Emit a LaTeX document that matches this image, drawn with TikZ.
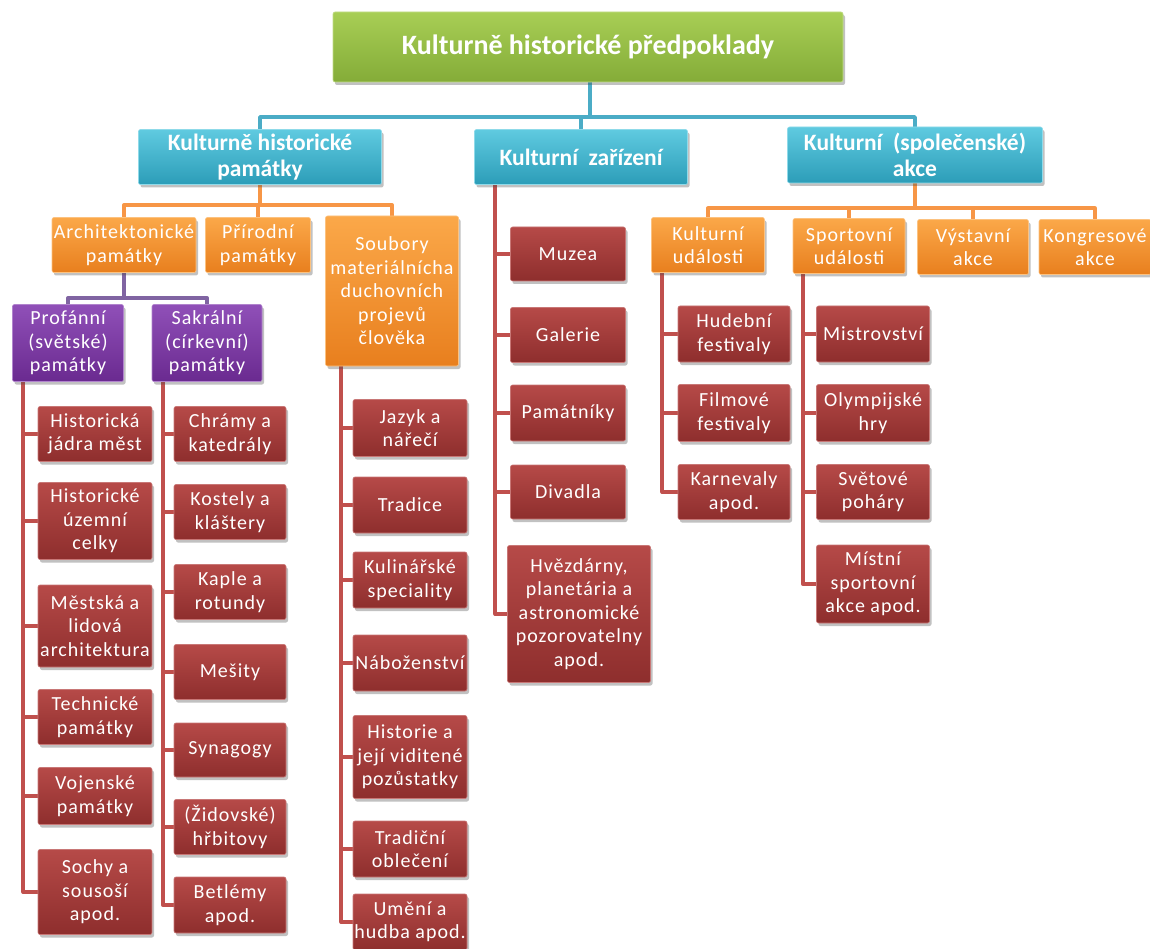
\documentclass[tikz,border=0pt]{standalone}
\usepackage{fontspec}
\setmainfont{Carlito}
\usetikzlibrary{shadows}
\pgfdeclarelayer{bg}
\pgfsetlayers{bg,main}
\definecolor{cgreenT}{HTML}{A8CE55}
\definecolor{cgreenB}{HTML}{84AC38}
\definecolor{cblueT}{HTML}{5FCAE0}
\definecolor{cblueB}{HTML}{2C9DB8}
\definecolor{corangeT}{HTML}{FBA849}
\definecolor{corangeB}{HTML}{E87F1E}
\definecolor{cpurpT}{HTML}{9050B8}
\definecolor{cpurpB}{HTML}{6A2A90}
\definecolor{credT}{HTML}{B64A48}
\definecolor{credB}{HTML}{8E2E2D}
\definecolor{lblue}{HTML}{4BACC6}
\definecolor{lorange}{HTML}{F79646}
\definecolor{lpurple}{HTML}{8064A2}
\definecolor{lred}{HTML}{C0504D}
\tikzset{
  box/.style={rectangle, rounded corners=2pt, align=center, text=white, inner sep=1pt,
    drop shadow={shadow xshift=2pt, shadow yshift=-3pt, opacity=0.35, fill=black!70},
    font=\addfontfeature{LetterSpace=5}\fontsize{20}{23.5}\selectfont},
  greenbox/.style={box, top color=cgreenT, bottom color=cgreenB, draw=cgreenT!70!white, line width=0.6pt,
    font=\bfseries\fontsize{28}{32}\selectfont},
  bluebox/.style={box, top color=cblueT, bottom color=cblueB, draw=cblueT!70!white, line width=0.6pt,
    font=\bfseries\fontsize{23.5}{26}\selectfont},
  orangebox/.style={box, top color=corangeT, bottom color=corangeB, draw=corangeT!70!white, line width=0.6pt},
  purplebox/.style={box, top color=cpurpT, bottom color=cpurpB, draw=cpurpT!70!white, line width=0.6pt},
  redbox/.style={box, top color=credT, bottom color=credB, draw=credT!75!white, line width=0.6pt},
  conn/.style={line width=3.6pt, line join=round},
  bl/.style={conn, draw=lblue},
  ol/.style={conn, draw=lorange},
  pl/.style={conn, draw=lpurple},
  rl/.style={conn, draw=lred},
}
\begin{document}
\begin{tikzpicture}[x=1pt,y=-1pt]
\useasboundingbox (0,0) rectangle (1150,949);

\node[greenbox, minimum width=510pt, minimum height=70pt] (title) at (588,47) {Kulturně historické předpoklady};

\node[bluebox, minimum width=243pt, minimum height=55pt] (khp) at (260,157) {Kulturně historické\\památky};
\node[bluebox, minimum width=213pt, minimum height=55pt] (kz) at (581,157) {Kulturní\ \ zařízení};
\node[bluebox, minimum width=255pt, minimum height=56pt] (ksa) at (915,155) {Kulturní\ \ (společenské)\\akce};

\node[orangebox, minimum width=144pt, minimum height=55pt] (arch) at (124,245) {Architektonické\\památky};
\node[orangebox, minimum width=105pt, minimum height=55pt] (prir) at (258,245) {Přírodní\\památky};
\node[orangebox, minimum width=133pt, minimum height=150pt] (soub) at (392,291) {Soubory\\materiálnícha\\duchovních\\projevů\\člověka};

\node[purplebox, minimum width=111pt, minimum height=77pt] (prof) at (68,343) {Profánní\\(světské)\\památky};
\node[purplebox, minimum width=110pt, minimum height=77pt] (sakr) at (207,343) {Sakrální\\(církevní)\\památky};

% Profánní children
\node[redbox, minimum width=114pt, minimum height=55pt] (p1) at (95,434) {Historická\\jádra měst};
\node[redbox, minimum width=114pt, minimum height=77pt] (p2) at (95,521) {Historické\\územní\\celky};
\node[redbox, minimum width=114pt, minimum height=82pt] (p3) at (95,626) {Městská a\\lidová\\architektura};
\node[redbox, minimum width=114pt, minimum height=55pt] (p4) at (95,717) {Technické\\památky};
\node[redbox, minimum width=114pt, minimum height=57pt] (p5) at (95,796) {Vojenské\\památky};
\node[redbox, minimum width=114pt, minimum height=85pt] (p6) at (95,892) {Sochy a\\sousoší\\apod.};

% Sakrální children
\node[redbox, minimum width=112pt, minimum height=55pt] (s1) at (230,434) {Chrámy a\\katedrály};
\node[redbox, minimum width=112pt, minimum height=55pt] (s2) at (230,512) {Kostely a\\kláštery};
\node[redbox, minimum width=112pt, minimum height=55pt] (s3) at (230,592) {Kaple a\\rotundy};
\node[redbox, minimum width=112pt, minimum height=55pt] (s4) at (230,672) {Mešity};
\node[redbox, minimum width=112pt, minimum height=54pt] (s5) at (230,750) {Synagogy};
\node[redbox, minimum width=112pt, minimum height=55pt] (s6) at (230,827) {(Židovské)\\hřbitovy};
\node[redbox, minimum width=112pt, minimum height=56pt] (s7) at (230,905) {Betlémy\\apod.};

% Soubory children
\node[redbox, minimum width=114pt, minimum height=57pt] (u1) at (410,428) {Jazyk a\\nářečí};
\node[redbox, minimum width=114pt, minimum height=56pt] (u2) at (410,505) {Tradice};
\node[redbox, minimum width=114pt, minimum height=56pt] (u3) at (410,580) {Kulinářské\\speciality};
\node[redbox, minimum width=114pt, minimum height=56pt] (u4) at (410,663) {Náboženství};
\node[redbox, minimum width=114pt, minimum height=83pt] (u5) at (410,757) {Historie a\\její viditené\\pozůstatky};
\node[redbox, minimum width=114pt, minimum height=56pt] (u6) at (410,849) {Tradiční\\oblečení};
\node[redbox, minimum width=114pt, minimum height=56pt] (u7) at (410,922) {Umění a\\hudba apod.};

% Kulturní zařízení children
\node[redbox, minimum width=115pt, minimum height=54pt] (z1) at (568,254) {Muzea};
\node[redbox, minimum width=115pt, minimum height=55pt] (z2) at (568,335) {Galerie};
\node[redbox, minimum width=115pt, minimum height=56pt] (z3) at (568,413) {Památníky};
\node[redbox, minimum width=115pt, minimum height=54pt] (z4) at (568,492) {Divadla};
\node[redbox, minimum width=143pt, minimum height=137pt] (z5) at (579,614) {Hvězdárny,\\planetária a\\astronomické\\pozorovatelny\\apod.};

% Kulturní (společenské) akce children
\node[orangebox, minimum width=113pt, minimum height=55pt] (a1) at (708,245) {Kulturní\\události};
\node[orangebox, minimum width=112pt, minimum height=55pt] (a2) at (849,246) {Sportovní\\události};
\node[orangebox, minimum width=111pt, minimum height=55pt] (a3) at (973,247) {Výstavní\\akce};
\node[orangebox, minimum width=112pt, minimum height=55pt] (a4) at (1095,247) {Kongresové\\akce};

\node[redbox, minimum width=112pt, minimum height=56pt] (k1) at (734,334) {Hudební\\festivaly};
\node[redbox, minimum width=112pt, minimum height=57pt] (k2) at (734,413) {Filmové\\festivaly};
\node[redbox, minimum width=112pt, minimum height=55pt] (k3) at (734,492) {Karnevaly\\apod.};

\node[redbox, minimum width=113pt, minimum height=56pt] (t1) at (873,334) {Mistrovství};
\node[redbox, minimum width=113pt, minimum height=57pt] (t2) at (873,413) {Olympijské\\hry};
\node[redbox, minimum width=113pt, minimum height=55pt] (t3) at (873,492) {Světové\\poháry};
\node[redbox, minimum width=113pt, minimum height=78pt] (t4) at (873,584) {Místní\\sportovní\\akce apod.};

% ---------- connectors ----------
\begin{pgfonlayer}{bg}
  \coordinate (bj) at (590,117);
  \draw[bl] (title.south -| bj) -- (bj) -| (khp.north);
  \draw[bl] (bj) -| (kz.north);
  \draw[bl] (bj) -| (ksa.north);
  \draw[ol] (khp.south) -- ++(0,20) coordinate (oj1) -| (arch.north);
  \draw[ol] (oj1) -| (prir.north);
  \draw[ol] (oj1) -| (soub.north);
  \draw[pl] (arch.south) -- ++(0,25) coordinate (pj) -| (prof.north);
  \draw[pl] (pj) -| (sakr.north);
  \foreach \c in {p1,p2,p3,p4,p5,p6} \draw[rl] ([xshift=11pt]prof.south west) |- (\c.west);
  \foreach \c in {s1,s2,s3,s4,s5,s6,s7} \draw[rl] ([xshift=11pt]sakr.south west) |- (\c.west);
  \foreach \c in {u1,u2,u3,u4,u5,u6,u7} \draw[rl] ([xshift=16pt]soub.south west) |- (\c.west);
  \foreach \c in {z1,z2,z3,z4,z5} \draw[rl] ([xshift=21pt]kz.south west) |- (\c.west);
  \draw[ol] (ksa.south) -- ++(0,25) coordinate (oj2) -| (a1.north);
  \draw[ol] (oj2) -| (a2.north);
  \draw[ol] (oj2) -| (a3.north);
  \draw[ol] (oj2) -| (a4.north);
  \foreach \c in {k1,k2,k3} \draw[rl] ([xshift=11pt]a1.south west) |- (\c.west);
  \foreach \c in {t1,t2,t3,t4} \draw[rl] ([xshift=10pt]a2.south west) |- (\c.west);
\end{pgfonlayer}
\end{tikzpicture}
\end{document}
